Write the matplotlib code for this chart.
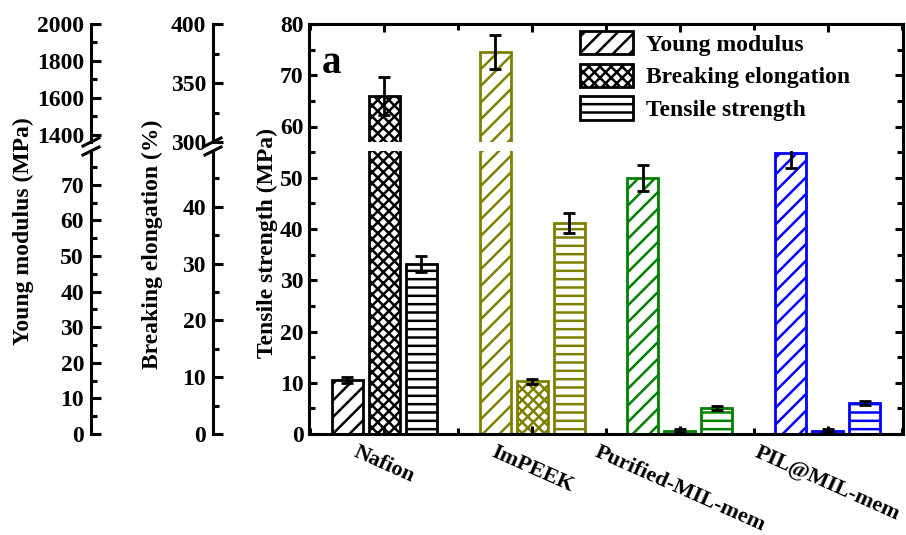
import matplotlib.pyplot as plt
from matplotlib.patches import Patch, Rectangle
from matplotlib.lines import Line2D
from matplotlib.ticker import MultipleLocator
import numpy as np

plt.rcParams['font.family'] = ['Liberation Serif', 'DejaVu Serif']
plt.rcParams['font.weight'] = 'bold'
plt.rcParams['hatch.linewidth'] = 1.8
plt.rcParams['axes.linewidth'] = 2.2

samples = ['Nafion', 'ImPEEK', 'Purified-MIL-mem', 'PIL@MIL-mem']
colors = ['black', '#808000', '#008000', '#0000ff']
young = [15.1, 1847, 72.0, 79.0]        # MPa
young_err = [0.8, 92, 3.6, 4.2]
elong = [339, 9.3, 0.6, 0.6]            # %
elong_err = [16, 0.45, 0.2, 0.2]
tensile = [33.2, 41.2, 5.1, 6.1]        # MPa
tensile_err = [1.6, 2.0, 0.35, 0.4]

W, H = 906, 535
fig = plt.figure(figsize=(W / 100, H / 100), dpi=100)


def box(x0, y_top, x1, y_bot):
    # pixel box (from top-left) -> figure fraction
    return [x0 / W, 1 - y_bot / H, (x1 - x0) / W, (y_bot - y_top) / H]


def side_axis(x, y_top, y_bot, lo, hi, major, minor):
    a = fig.add_axes(box(x, y_top, x + 1, y_bot))
    a.set_ylim(lo, hi)
    a.patch.set_visible(False)
    for s in ['top', 'right', 'bottom']:
        a.spines[s].set_visible(False)
    a.set_xticks([])
    a.yaxis.set_major_locator(MultipleLocator(major))
    a.yaxis.set_minor_locator(MultipleLocator(minor))
    a.tick_params(axis='y', which='both', direction='in', width=2.2, labelsize=17, pad=5)
    a.tick_params(axis='y', which='major', length=7)
    a.tick_params(axis='y', which='minor', length=4.5)
    return a


def break_mark(x, y):
    fig.add_artist(Line2D([(x - 8) / W, (x + 8) / W], [1 - (y + 4) / H, 1 - (y - 4) / H],
                          transform=fig.transFigure, color='black', lw=2.2))


gap_top, gap_bot = 142, 151
young_lo = side_axis(91, gap_bot, 434, 0, 79.5, 10, 5)
young_hi = side_axis(91, 24, gap_top, 1362, 2000, 200, 100)
elong_lo = side_axis(213, gap_bot, 434, 0, 49.8, 10, 5)
elong_hi = side_axis(213, 24, gap_top, 300, 400, 50, 25)
for xs in (91, 213):
    break_mark(xs, gap_top)
    break_mark(xs, gap_bot)

ax = fig.add_axes(box(309, 24, 903, 434))
ax.set_xlim(0.49, 4.51)
ax.set_ylim(0, 80)
ax.yaxis.set_major_locator(MultipleLocator(10))
ax.yaxis.set_minor_locator(MultipleLocator(5))
x = np.arange(1, len(samples) + 1)
ax.set_xticks(x)
ax.set_xticklabels(samples, rotation=-24, ha='center', va='top', fontsize=16)
ax.xaxis.set_minor_locator(MultipleLocator(0.5))
ax.tick_params(which='both', direction='in', top=True, right=True, width=2.2, labelsize=17)
ax.tick_params(which='major', length=6)
ax.tick_params(which='minor', length=4)
ax.tick_params(axis='x', pad=6, labelsize=16)
ax.tick_params(axis='y', pad=4)
# keep the last rotated label inside the canvas
ax.get_xticklabels()[-1].set_x(3.96)

gap_lo = ax.transData.inverted().transform((0, H - gap_bot))[1]
gap_hi = ax.transData.inverted().transform((0, H - gap_top))[1]


def to_main(seg, v):
    pix = seg.transData.transform((0, v))[1]
    return ax.transData.inverted().transform((0, pix))[1]


groups = [
    (young, young_err, young_lo, young_hi, '//', -0.25),
    (elong, elong_err, elong_lo, elong_hi, 'xxx', 0.0),
    (tensile, tensile_err, ax, ax, '--', 0.25),
]
clip = Rectangle((0, 0), 10, gap_lo, transform=ax.transData)
for vals, errs, lo, hi, hatch, off in groups:
    for i, (v, e) in enumerate(zip(vals, errs)):
        seg = lo if v <= lo.get_ylim()[1] else hi
        h = to_main(seg, v)
        yerr = [[h - to_main(seg, v - e)], [to_main(seg, v + e) - h]]
        ax.bar(x[i] + off, h, width=0.21, facecolor='white', edgecolor=colors[i],
               hatch=hatch, lw=2, zorder=1)
        eb = ax.errorbar(x[i] + off, h, yerr=yerr, fmt='none', ecolor='black',
                         elinewidth=2, capsize=4, capthick=2, zorder=3)
        if h < gap_lo:
            for art in list(eb.lines[1]) + list(eb.lines[2]):
                art.set_clip_path(clip)

ax.axhspan(gap_lo, gap_hi, color='white', lw=0, zorder=2)

handles = [Patch(facecolor='white', edgecolor='black', hatch=hh, lw=2)
           for hh in ['//', 'xxx', '--']]
ax.legend(handles, ['Young modulus', 'Breaking elongation', 'Tensile strength'],
          loc='upper left', bbox_to_anchor=(580 / W, 1 - 31 / H), bbox_transform=fig.transFigure,
          frameon=False, fontsize=17, borderpad=0, borderaxespad=0,
          handlelength=2.25, handleheight=1.15, handletextpad=0.55, labelspacing=0.34)

fig.text(23 / W, 1 - 231 / H, 'Young modulus (MPa)', rotation=90, ha='center', va='center', fontsize=17)
fig.text(152 / W, 1 - 244 / H, 'Breaking elongation (%)', rotation=90, ha='center', va='center', fontsize=17)
fig.text(267 / W, 1 - 243 / H, 'Tensile strength (MPa)', rotation=90, ha='center', va='center', fontsize=17)
fig.text(322 / W, 1 - 73 / H, 'a', fontsize=28, va='baseline')

fig.savefig('out.png', dpi=100)
